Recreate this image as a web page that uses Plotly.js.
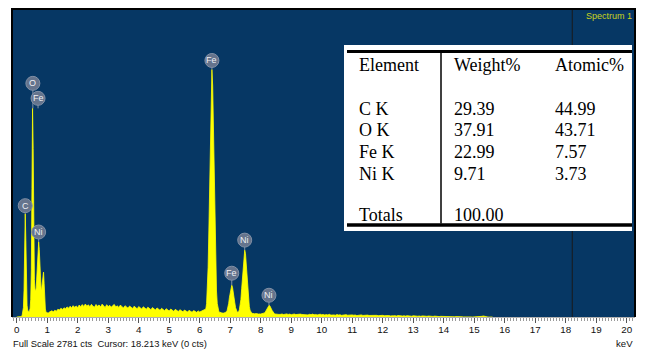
<!DOCTYPE html>
<html>
<head>
<meta charset="utf-8">
<script src="https://cdn.plot.ly/plotly-3.0.1.min.js"></script>
<style>
  html, body { margin: 0; padding: 0; background: #ffffff; }
  #chart { width: 645px; height: 349px; }
</style>
</head>
<body>
<div id="chart"></div>
<script>
// ---- Spectrum channels (counts), stored per energy segment ----
// 0.00 - 1.08 keV, 0.02 keV per channel
const lowStart = 0.00, lowStep = 0.02;
const lowCounts = [
  0, 0, 0, 0, 0, 0, 0, 0, 4, 18,
  40, 85, 240, 620, 933, 690, 290, 105, 62, 50,
  48, 55, 78, 160, 430, 1160, 1884, 1520, 720, 340,
  250, 238, 262, 370, 520, 630, 677, 610, 440, 300,
  245, 260, 330, 395, 405, 300, 150, 72, 46, 38,
  36, 40, 37, 42, 44
];

// 1.10 - 6.15 keV continuum, 0.05 keV per channel
const contStart = 1.10, contStep = 0.05;
const continuumCounts = [
  44, 56, 47, 61, 52, 70, 63, 79, 68, 83,
  74, 91, 80, 97, 84, 102, 88, 99, 86, 108,
  93, 112, 95, 117, 98, 110, 92, 114, 97, 89,
  113, 96, 109, 90, 116, 97, 86, 111, 94, 105,
  88, 103, 113, 90, 101, 85, 108, 93, 82, 102,
  90, 80, 99, 87, 77, 97, 84, 74, 94, 81,
  72, 92, 78, 70, 89, 74, 66, 85, 71, 63,
  82, 68, 60, 78, 64, 57, 75, 62, 54, 72,
  59, 51, 69, 56, 49, 66, 53, 47, 63, 50,
  45, 60, 48, 43, 58, 46, 42, 55, 45, 52,
  57, 63
];

// 6.20 - 8.60 keV, Fe / Ni K lines, 0.025 keV per channel
const kStart = 6.20, kStep = 0.025;
const kLineCounts = [
  72, 121, 241, 450, 785, 1240, 1710, 2090, 2235, 2085,
  1722, 1230, 795, 447, 235, 122, 76, 52, 43, 37,
  40, 36, 39, 35, 37, 38, 41, 46, 60, 88,
  124, 179, 228, 273, 287, 268, 232, 175, 128, 85,
  58, 47, 43, 48, 65, 100, 158, 255, 362, 485,
  569, 604, 574, 478, 368, 250, 163, 97, 62, 46,
  36, 33, 30, 32, 29, 31, 28, 30, 29, 27,
  30, 28, 27, 29, 27, 29, 31, 37, 46, 57,
  75, 89, 101, 106, 100, 91, 72, 59, 44, 35,
  29, 27, 25, 26, 24, 25, 23
];

// 8.65 - 15.60 keV tail, 0.05 keV per channel
const tailStart = 8.65, tailStep = 0.05;
const tailCounts = [
  24, 27, 22, 25, 28, 23, 26, 21, 25, 27,
  22, 24, 20, 26, 23, 21, 25, 22, 19, 24,
  21, 26, 20, 23, 19, 22, 25, 20, 23, 18,
  22, 19, 24, 17, 21, 19, 16, 22, 18, 20,
  15, 19, 17, 21, 16, 18, 14, 19, 16, 18,
  13, 17, 15, 19, 14, 16, 12, 17, 14, 15,
  11, 16, 13, 15, 12, 14, 10, 15, 12, 14,
  11, 13, 10, 14, 11, 12, 9, 13, 10, 12,
  9, 11, 8, 12, 9, 10, 7, 11, 8, 10,
  7, 9, 6, 10, 7, 8, 6, 9, 6, 7,
  5, 8, 5, 7, 4, 6, 5, 6, 4, 5,
  3, 5, 3, 4, 2, 4, 2, 3, 1, 2,
  1, 2, 0, 1, 0, 1, 0, 0, 0, 0,
  0, 0, 6, 9, 4, 0, 0, 0, 0, 0
];

const fullScaleCounts = 2781;
const cursorKeV = 18.213;
const cursorCounts = 0;

// Peak identification markers
const peakElements = ['C', 'O', 'Fe', 'Ni', 'Fe', 'Fe', 'Ni', 'Ni'];
const peakEnergies = [0.28, 0.53, 0.70, 0.72, 6.40, 7.05, 7.475, 8.27];
const peakCounts   = [933, 1884, 1884, 677, 2235, 287, 604, 106];

// Quantification table
const tableHeader  = ['Element', 'Weight%', 'Atomic%'];
const elementLines = ['C K', 'O K', 'Fe K', 'Ni K'];
const weightPct    = ['29.39', '37.91', '22.99', '9.71'];
const atomicPct    = ['44.99', '43.71', '7.57', '3.73'];
const totalsLabel  = 'Totals';
const weightTotal  = '100.00';

const xTicks = [0,1,2,3,4,5,6,7,8,9,10,11,12,13,14,15,16,17,18,19,20];

// ---- Build the channel energy axis ----
function segment(start, step, counts) {
  return counts.map((_, i) => +(start + i * step).toFixed(4));
}
const energy = [].concat(
  segment(lowStart, lowStep, lowCounts),
  segment(contStart, contStep, continuumCounts),
  segment(kStart, kStep, kLineCounts),
  segment(tailStart, tailStep, tailCounts)
);
const counts = [].concat(lowCounts, continuumCounts, kLineCounts, tailCounts);

// ---- Page geometry helpers ----
const W = 645, H = 349;
const M = { l: 12, r: 10, t: 9, b: 32 };
const PW = W - M.l - M.r, PH = H - M.t - M.b;
const fx = x => (x - M.l) / PW;       // page pixel -> paper x
const fy = y => 1 - (y - M.t) / PH;   // page pixel -> paper y

const BLUE = '#063764';
const YELLOW = '#ffff00';
const serif = 'Liberation Serif, Times New Roman, serif';
const sans = 'Liberation Sans, Arial, sans-serif';

// marker circle lift above its peak (px)
const labelLift = [8, 25, 10, 10, 9, 12, 10, 10];
const R = 7;

const shapes = [];
const annotations = [];

// cursor line
shapes.push({
  type: 'line', xref: 'x', yref: 'paper',
  x0: cursorKeV, x1: cursorKeV, y0: 0, y1: 1,
  line: { color: '#1a1a1a', width: 1 }, layer: 'above'
});

// peak markers: stem + disc + symbol
peakElements.forEach((el, i) => {
  const lift = labelLift[i];
  shapes.push({
    type: 'line', xref: 'x', yref: 'y',
    xsizemode: 'pixel', ysizemode: 'pixel',
    xanchor: peakEnergies[i], yanchor: peakCounts[i],
    x0: 0, x1: 0, y0: 0, y1: lift - R + 0.5,
    line: { color: '#8492a6', width: 1 }, layer: 'above'
  });
  shapes.push({
    type: 'circle', xref: 'x', yref: 'y',
    xsizemode: 'pixel', ysizemode: 'pixel',
    xanchor: peakEnergies[i], yanchor: peakCounts[i],
    x0: -R, x1: R, y0: lift - R, y1: lift + R,
    fillcolor: '#65748d', line: { color: '#8190a6', width: 1 }, layer: 'above'
  });
  annotations.push({
    xref: 'x', yref: 'y', x: peakEnergies[i], y: peakCounts[i],
    yshift: lift, showarrow: false, text: el,
    font: { family: sans, size: 9, color: '#eef0f4' },
    xanchor: 'center', yanchor: 'middle'
  });
});

// quantification table box and rules
shapes.push({
  type: 'rect', xref: 'paper', yref: 'paper',
  x0: fx(344), x1: fx(632), y0: fy(231), y1: fy(45),
  fillcolor: '#ffffff', line: { width: 0 }, layer: 'above'
});
shapes.push({
  type: 'line', xref: 'paper', yref: 'paper',
  x0: fx(347), x1: fx(632), y0: fy(51.5), y1: fy(51.5),
  line: { color: '#000000', width: 3 }, layer: 'above'
});
shapes.push({
  type: 'line', xref: 'paper', yref: 'paper',
  x0: fx(347), x1: fx(632), y0: fy(225), y1: fy(225),
  line: { color: '#000000', width: 3.5 }, layer: 'above'
});
shapes.push({
  type: 'line', xref: 'paper', yref: 'paper',
  x0: fx(441), x1: fx(441), y0: fy(53), y1: fy(223.5),
  line: { color: '#000000', width: 1.5 }, layer: 'above'
});

// frame around the spectrum window
shapes.push({
  type: 'path', xref: 'paper', yref: 'paper',
  path: 'M0,0L0,1L1,1L1,0',
  line: { color: '#000000', width: 2 }, layer: 'above'
});

// table text
const colX = [357, 452, 553];
function cell(text, xPx, yPx) {
  annotations.push({
    xref: 'paper', yref: 'paper', x: fx(xPx), y: fy(yPx),
    text: text, showarrow: false, xanchor: 'left', yanchor: 'middle',
    font: { family: serif, size: 18, color: '#000000' }
  });
}
tableHeader.forEach((t, j) => cell(t, colX[j], 65.5));
const rowY = [108.5, 130.2, 151.8, 173.5];
elementLines.forEach((t, i) => {
  cell(t, colX[0], rowY[i]);
  cell(weightPct[i], colX[1], rowY[i]);
  cell(atomicPct[i], colX[2], rowY[i]);
});
cell(totalsLabel, colX[0], 214.5);
cell(weightTotal, colX[1], 214.5);

// window caption and status line
annotations.push({
  xref: 'paper', yref: 'paper', x: fx(634), y: fy(16),
  text: 'Spectrum 1', showarrow: false, xanchor: 'right', yanchor: 'middle',
  font: { family: sans, size: 9, color: '#c9d31e' }
});
annotations.push({
  xref: 'paper', yref: 'paper', x: fx(11), y: fy(343),
  text: 'Full Scale ' + fullScaleCounts + ' cts\u00a0 Cursor: ' + cursorKeV.toFixed(3) +
        ' keV (' + cursorCounts + ' cts)',
  showarrow: false, xanchor: 'left', yanchor: 'middle',
  font: { family: sans, size: 9.4, color: '#111111' }
});
annotations.push({
  xref: 'paper', yref: 'paper', x: fx(635), y: fy(344),
  text: 'keV', showarrow: false, xanchor: 'right', yanchor: 'middle',
  font: { family: sans, size: 9.6, color: '#111111' }
});

const trace = {
  type: 'scatter', mode: 'lines',
  x: energy, y: counts,
  line: { color: YELLOW, width: 0.8, shape: 'linear' },
  fill: 'tozeroy', fillcolor: YELLOW,
  hoverinfo: 'skip'
};

const layout = {
  width: W, height: H,
  margin: M,
  paper_bgcolor: '#ffffff',
  plot_bgcolor: BLUE,
  showlegend: false,
  xaxis: {
    range: [-0.154, 20.27],
    tickmode: 'array', tickvals: xTicks, ticktext: xTicks.map(String),
    ticks: 'outside', ticklen: 5, tickwidth: 1, tickcolor: '#555555',
    ticklabelstandoff: -2,
    tickfont: { family: sans, size: 9.8, color: '#111111' },
    minor: { dtick: 0.1, tick0: 0, ticks: 'outside', ticklen: 2.5, tickwidth: 1, tickcolor: '#9a9a9a', showgrid: false },
    showline: true, linecolor: '#b0b0b0', linewidth: 1,
    showgrid: false, zeroline: false, fixedrange: true
  },
  yaxis: {
    range: [0, fullScaleCounts],
    visible: false, showgrid: false, zeroline: false, fixedrange: true
  },
  shapes: shapes,
  annotations: annotations
};

Plotly.newPlot('chart', [trace], layout, { staticPlot: true, displayModeBar: false });
</script>
</body>
</html>
